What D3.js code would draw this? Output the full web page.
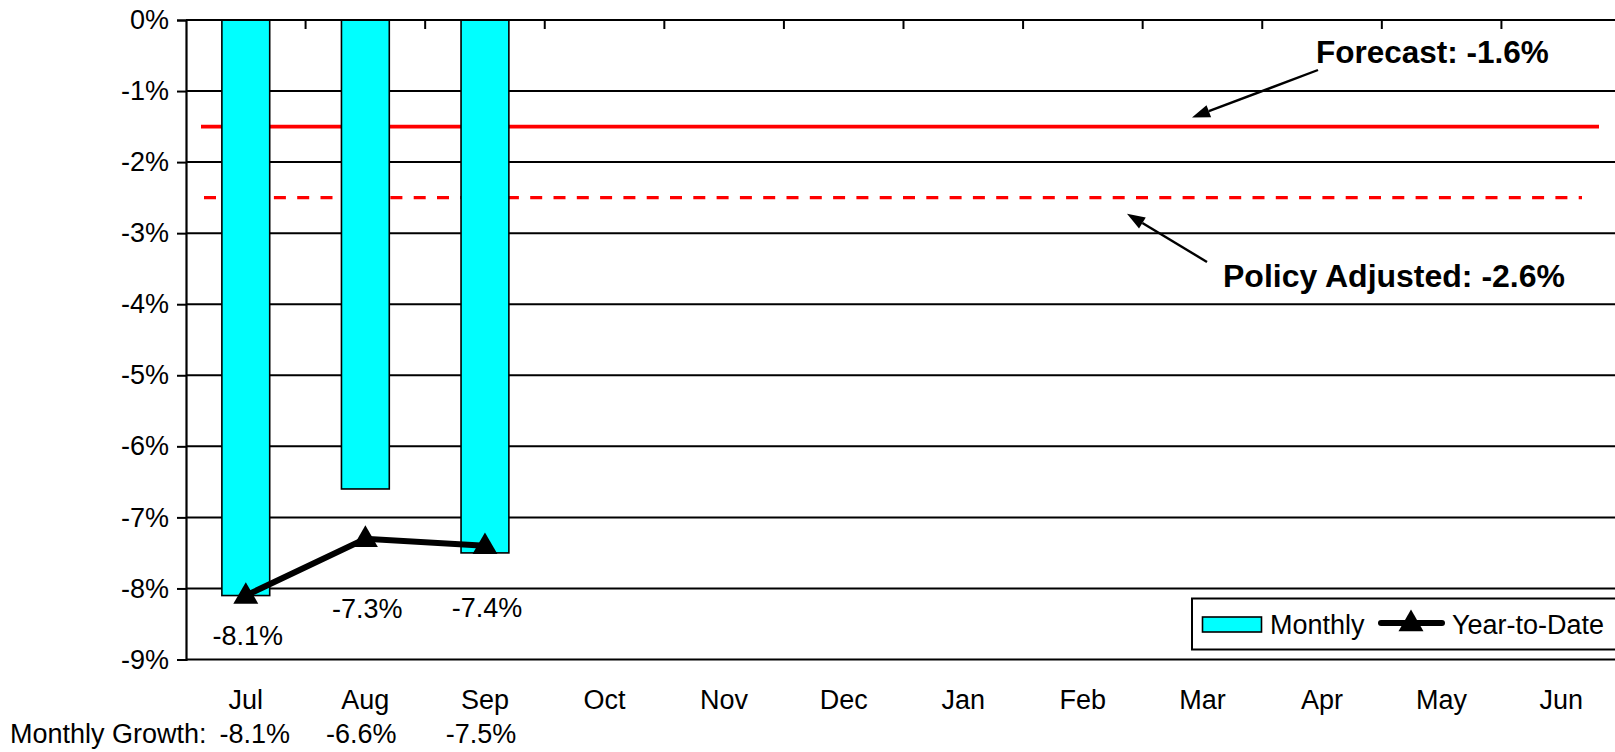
<!DOCTYPE html>
<html>
<head>
<meta charset="utf-8">
<script src="https://cdn.jsdelivr.net/npm/d3@7"></script>
<style>
  html, body { margin: 0; padding: 0; background: #fff; }
  svg { display: block; font-family: "Liberation Sans", Arial, sans-serif; }
</style>
</head>
<body>
<svg id="chart" width="1615" height="752"></svg>
<script>
// ---- data ----
const months = ["Jul","Aug","Sep","Oct","Nov","Dec","Jan","Feb","Mar","Apr","May","Jun"];
const monthlyGrowth = [-8.1, -6.6, -7.5];          // bars (Jul..Sep)
const yearToDate = [-8.1, -7.3, -7.4];             // line (Jul..Sep)
const yTicks = [0, -1, -2, -3, -4, -5, -6, -7, -8, -9];
const forecastValue = -1.5;                         // solid red reference line
const policyValue = -2.5;                           // dashed red reference line
const forecastLabel = "Forecast: -1.6%";
const policyLabel = "Policy Adjusted: -2.6%";
const seriesNames = ["Monthly", "Year-to-Date"];
const rowLabel = "Monthly Growth:";

// ---- layout ----
const svg = d3.select("#chart");
const plotLeft = 186, plotRight = 1621, plotTop = 20, plotBottom = 659.5;
const fontSize = 27;

const locale = d3.formatLocale({ decimal: ".", thousands: ",", grouping: [3], currency: ["$", ""], minus: "-" });
const fmt = v => locale.format(".0f")(v) + "%";
const fmt1 = v => locale.format(".1f")(v) + "%";

const x = d3.scaleBand().domain(months).range([plotLeft, plotRight]).paddingInner(0).paddingOuter(0);
const bw = x.bandwidth();
const y = d3.scaleLinear().domain([-9, 0]).range([plotBottom, plotTop]);

// gridlines
svg.append("g").selectAll("line").data(yTicks).join("line")
  .attr("x1", plotLeft).attr("x2", 1615)
  .attr("y1", d => y(d)).attr("y2", d => y(d))
  .attr("stroke", "#000").attr("stroke-width", 2);

// y axis
const yAxis = d3.axisLeft(y).tickValues(yTicks).tickSize(9).tickPadding(8).tickFormat(fmt);
const gy = svg.append("g").attr("transform", `translate(${plotLeft},0)`).call(yAxis);
gy.select(".domain").attr("stroke", "#000").attr("stroke-width", 2.2);
gy.selectAll(".tick line").attr("stroke", "#000").attr("stroke-width", 2);
gy.selectAll(".tick text").attr("font-size", fontSize).attr("fill", "#000")
  .attr("font-family", "Liberation Sans, Arial, sans-serif");

// top category ticks (at band boundaries, pointing down into plot)
const boundaries = months.slice(1).map(m => x(m));
svg.append("g").selectAll("line").data(boundaries).join("line")
  .attr("x1", d => d).attr("x2", d => d)
  .attr("y1", y(0)).attr("y2", y(0) + 9)
  .attr("stroke", "#000").attr("stroke-width", 2);

// reference lines
svg.append("line")
  .attr("x1", plotLeft + 15).attr("x2", plotRight - 22)
  .attr("y1", y(forecastValue)).attr("y2", y(forecastValue))
  .attr("stroke", "#ff0000").attr("stroke-width", 3.6);
svg.append("line")
  .attr("x1", plotLeft + 18).attr("x2", plotRight - 39)
  .attr("y1", y(policyValue)).attr("y2", y(policyValue))
  .attr("stroke", "#ff0000").attr("stroke-width", 3.3)
  .attr("stroke-dasharray", "12,11.3");

// bars
const barW = bw * 0.4;
svg.append("g").selectAll("rect").data(monthlyGrowth).join("rect")
  .attr("x", (d, i) => x(months[i]) + (bw - barW) / 2)
  .attr("y", y(0))
  .attr("width", barW)
  .attr("height", d => y(d) - y(0))
  .attr("fill", "#00ffff").attr("stroke", "#000").attr("stroke-width", 1.6);

// redraw top border over bars
svg.append("line").attr("x1", plotLeft).attr("x2", 1615).attr("y1", y(0)).attr("y2", y(0))
  .attr("stroke", "#000").attr("stroke-width", 2);

// YTD line
const cx = (i) => x(months[i]) + bw / 2;
svg.append("path")
  .datum(yearToDate)
  .attr("d", d3.line().x((d, i) => cx(i)).y(d => y(d)))
  .attr("fill", "none").attr("stroke", "#000").attr("stroke-width", 6);
const tri = d3.symbol().type(d3.symbolTriangle).size(270);
svg.append("g").selectAll("path").data(yearToDate).join("path")
  .attr("transform", (d, i) => `translate(${cx(i)},${y(d) + 1})`)
  .attr("d", tri).attr("fill", "#000");

// YTD data labels
const labelDy = [49, 79, 71];
svg.append("g").selectAll("text").data(yearToDate).join("text")
  .attr("x", (d, i) => cx(i) + 2)
  .attr("y", (d, i) => y(d) + labelDy[i])
  .attr("text-anchor", "middle").attr("font-size", fontSize).attr("fill", "#000")
  .text(d => fmt1(d));

// month labels
svg.append("g").selectAll("text").data(months).join("text")
  .attr("x", d => x(d) + bw / 2)
  .attr("y", 709)
  .attr("text-anchor", "middle").attr("font-size", fontSize).attr("fill", "#000")
  .text(d => d);

// monthly growth row
svg.append("text").attr("x", 10).attr("y", 743).attr("font-size", fontSize).attr("fill", "#000")
  .text(rowLabel);
const rowDx = [9, -4, -4];
svg.append("g").selectAll("text").data(monthlyGrowth).join("text")
  .attr("x", (d, i) => cx(i) + rowDx[i])
  .attr("y", 743)
  .attr("text-anchor", "middle").attr("font-size", fontSize).attr("fill", "#000")
  .text(d => fmt1(d));

// annotations
function arrow(x1, y1, x2, y2) {
  const ang = Math.atan2(y2 - y1, x2 - x1);
  const L = 18, W = 6.5;
  const bx = x2 - L * Math.cos(ang), by = y2 - L * Math.sin(ang);
  svg.append("line").attr("x1", x1).attr("y1", y1).attr("x2", bx).attr("y2", by)
    .attr("stroke", "#000").attr("stroke-width", 2.4);
  const px = -Math.sin(ang) * W, py = Math.cos(ang) * W;
  svg.append("path")
    .attr("d", `M${x2},${y2}L${bx + px},${by + py}L${bx - px},${by - py}Z`)
    .attr("fill", "#000");
}
arrow(1318, 70, 1192, y(forecastValue) - 9);
arrow(1207, 262, 1127, y(policyValue) + 16);

svg.append("text").attr("x", 1316).attr("y", 63)
  .attr("font-size", 31.5).attr("font-weight", "bold").attr("fill", "#000").text(forecastLabel);
svg.append("text").attr("x", 1223).attr("y", 287)
  .attr("font-size", 32).attr("font-weight", "bold").attr("fill", "#000").text(policyLabel);

// legend
const lg = svg.append("g");
lg.append("rect").attr("x", 1192).attr("y", 598.5).attr("width", 440).attr("height", 51)
  .attr("fill", "#fff").attr("stroke", "#000").attr("stroke-width", 2);
lg.append("rect").attr("x", 1202.5).attr("y", 617).attr("width", 59).attr("height", 15)
  .attr("fill", "#00ffff").attr("stroke", "#000").attr("stroke-width", 1.6);
lg.append("text").attr("x", 1270).attr("y", 634).attr("font-size", fontSize).attr("fill", "#000")
  .text(seriesNames[0]);
lg.append("line").attr("x1", 1381).attr("x2", 1442).attr("y1", 623).attr("y2", 623)
  .attr("stroke", "#000").attr("stroke-width", 6).attr("stroke-linecap", "round");
lg.append("path").attr("transform", "translate(1411,624)").attr("d", tri).attr("fill", "#000");
lg.append("text").attr("x", 1452).attr("y", 634).attr("font-size", fontSize).attr("fill", "#000")
  .text(seriesNames[1]);
</script>
</body>
</html>
